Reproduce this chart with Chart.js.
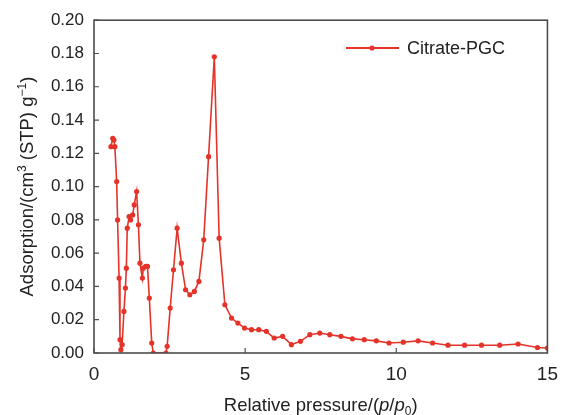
<!DOCTYPE html>
<html>
<head>
<meta charset="utf-8">
<script src="https://cdn.jsdelivr.net/npm/chart.js@4.4.0/dist/chart.umd.min.js"></script>
<style>
  html, body { margin: 0; padding: 0; background: #fff; }
  #wrap { width: 568px; height: 415px; }
</style>
</head>
<body>
<div id="wrap"><canvas id="isoChart"></canvas></div>
<script>
// values
const seriesName = "Citrate-PGC";
const pressure = [
  0.56, 0.62, 0.66, 0.69, 0.75, 0.78, 0.83, 0.86, 0.89, 0.93,
  0.99, 1.04, 1.07, 1.10, 1.16, 1.21, 1.28, 1.33, 1.41, 1.47,
  1.52, 1.60, 1.63, 1.71, 1.77, 1.83, 1.91, 1.96, 2.38, 2.42,
  2.52, 2.63, 2.75, 2.89, 3.03, 3.17, 3.32, 3.47, 3.63, 3.79,
  3.98, 4.14, 4.33, 4.55, 4.76, 4.98, 5.21, 5.45, 5.70, 5.96,
  6.24, 6.53, 6.83, 7.14, 7.47, 7.80, 8.17, 8.55, 8.94, 9.34,
  9.76, 10.23, 10.72, 11.20, 11.71, 12.26, 12.82, 13.42, 14.03, 14.67,
  15.0
];
const adsorption = [
  0.124, 0.129, 0.128, 0.124, 0.103, 0.080, 0.045, 0.008, 0.002, 0.005,
  0.025, 0.039, 0.051, 0.075, 0.082, 0.080, 0.083, 0.089, 0.097, 0.077,
  0.054, 0.045, 0.051, 0.052, 0.052, 0.033, 0.006, 0.000, 0.000, 0.004,
  0.027, 0.050, 0.075, 0.054, 0.038, 0.035, 0.037, 0.043, 0.068, 0.118,
  0.178, 0.069, 0.029, 0.021, 0.018, 0.015, 0.014, 0.014, 0.013, 0.009,
  0.010, 0.005, 0.007, 0.011, 0.012, 0.011, 0.010, 0.0085, 0.008, 0.0073,
  0.006, 0.0065, 0.0073, 0.006, 0.0047, 0.0047, 0.0047, 0.0047, 0.0054, 0.0033,
  0.003
];
const xTicks = [0, 5, 10, 15];
const yTicks = [0, 0.02, 0.04, 0.06, 0.08, 0.10, 0.12, 0.14, 0.16, 0.18, 0.20];

const xTitle = [
  { t: "Relative pressure/(", s: "n" }, { t: "p", s: "i" }, { t: "/", s: "n" },
  { t: "p", s: "i" }, { t: "0", s: "sub" }, { t: ")", s: "n" }
];
const yTitle = [
  { t: "Adsorption/(cm", s: "n" }, { t: "3", s: "sup" }, { t: " (STP) g", s: "n" },
  { t: "\u22121", s: "sup" }, { t: ")", s: "n" }
];

const lineColor = "#e5332a";
const frameColor = "#4d4d4d";
const fontFamily = "'Liberation Sans', Arial, sans-serif";

function partFont(p, size) {
  const small = (p.s === "sup" || p.s === "sub");
  const sz = small ? Math.round(size * 0.65) : size;
  return (p.s === "i" ? "italic " : "") + sz + "px " + fontFamily;
}

function drawRich(ctx, parts, cx, y, size) {
  let total = 0;
  parts.forEach(p => { ctx.font = partFont(p, size); total += ctx.measureText(p.t).width; });
  let x = cx - total / 2;
  ctx.textAlign = "left";
  ctx.textBaseline = "alphabetic";
  parts.forEach(p => {
    ctx.font = partFont(p, size);
    let dy = 0;
    if (p.s === "sup") dy = -size * 0.38;
    if (p.s === "sub") dy = size * 0.22;
    ctx.fillText(p.t, x, y + dy);
    x += ctx.measureText(p.t).width;
  });
}

const framePlugin = {
  id: "frame",
  afterDraw(chart) {
    const ctx = chart.ctx;
    const a = chart.chartArea;
    const xs = chart.scales.x;
    const ys = chart.scales.y;
    ctx.save();
    ctx.strokeStyle = frameColor;
    ctx.lineWidth = 1.6;
    ctx.strokeRect(a.left, a.top, a.right - a.left, a.bottom - a.top);
    ctx.lineWidth = 1.2;
    ctx.beginPath();
    xTicks.forEach(v => {
      const px = xs.getPixelForValue(v);
      ctx.moveTo(px, a.bottom);
      ctx.lineTo(px, a.bottom - 5);
    });
    yTicks.forEach(v => {
      const py = ys.getPixelForValue(v);
      ctx.moveTo(a.left, py);
      ctx.lineTo(a.left + 5, py);
    });
    ctx.stroke();

    // axis titles
    ctx.fillStyle = "#222";
    drawRich(ctx, xTitle, (a.left + a.right) / 2, 411, 18.5);
    ctx.save();
    ctx.translate(33, (a.top + a.bottom) / 2);
    ctx.rotate(-Math.PI / 2);
    drawRich(ctx, yTitle, 0, 0, 18.5);
    ctx.restore();

    // legend
    const ly = 48;
    ctx.strokeStyle = lineColor;
    ctx.lineWidth = 1.8;
    ctx.beginPath();
    ctx.moveTo(346, ly);
    ctx.lineTo(399, ly);
    ctx.stroke();
    ctx.fillStyle = lineColor;
    ctx.beginPath();
    ctx.arc(372, ly, 2.6, 0, Math.PI * 2);
    ctx.fill();
    ctx.fillStyle = "#222";
    ctx.font = "18px " + fontFamily;
    ctx.textAlign = "left";
    ctx.textBaseline = "middle";
    ctx.fillText(seriesName, 407, ly + 1);
    ctx.restore();
  }
};

const points = pressure.map((x, i) => ({ x: x, y: adsorption[i] }));

new Chart(document.getElementById("isoChart").getContext("2d"), {
  type: "line",
  data: {
    datasets: [{
      label: seriesName,
      data: points,
      borderColor: lineColor,
      backgroundColor: lineColor,
      borderWidth: 1.6,
      pointRadius: 2.6,
      pointBorderWidth: 0,
      pointHoverRadius: 2.6,
      tension: 0,
      fill: false
    }]
  },
  options: {
    responsive: true,
    maintainAspectRatio: false,
    animation: false,
    layout: { padding: { top: 17, right: 20, left: 0, bottom: 0 } },
    plugins: {
      legend: { display: false },
      tooltip: { enabled: false }
    },
    scales: {
      x: {
        type: "linear",
        min: 0,
        max: 15,
        afterFit(scale) { scale.height = 62; },
        afterBuildTicks(scale) { scale.ticks = xTicks.map(v => ({ value: v })); },
        grid: { display: false, drawTicks: false },
        border: { display: false },
        ticks: {
          padding: 10,
          color: "#222",
          font: { family: fontFamily, size: 19 },
          maxRotation: 0
        }
      },
      y: {
        min: 0,
        max: 0.2,
        afterFit(scale) { scale.width = 94; },
        afterBuildTicks(scale) { scale.ticks = yTicks.map(v => ({ value: v })); },
        grid: { display: false, drawTicks: false },
        border: { display: false },
        ticks: {
          padding: 10,
          color: "#222",
          font: { family: fontFamily, size: 17 },
          callback: v => v.toFixed(2)
        }
      }
    }
  },
  plugins: [framePlugin]
});
</script>
</body>
</html>
